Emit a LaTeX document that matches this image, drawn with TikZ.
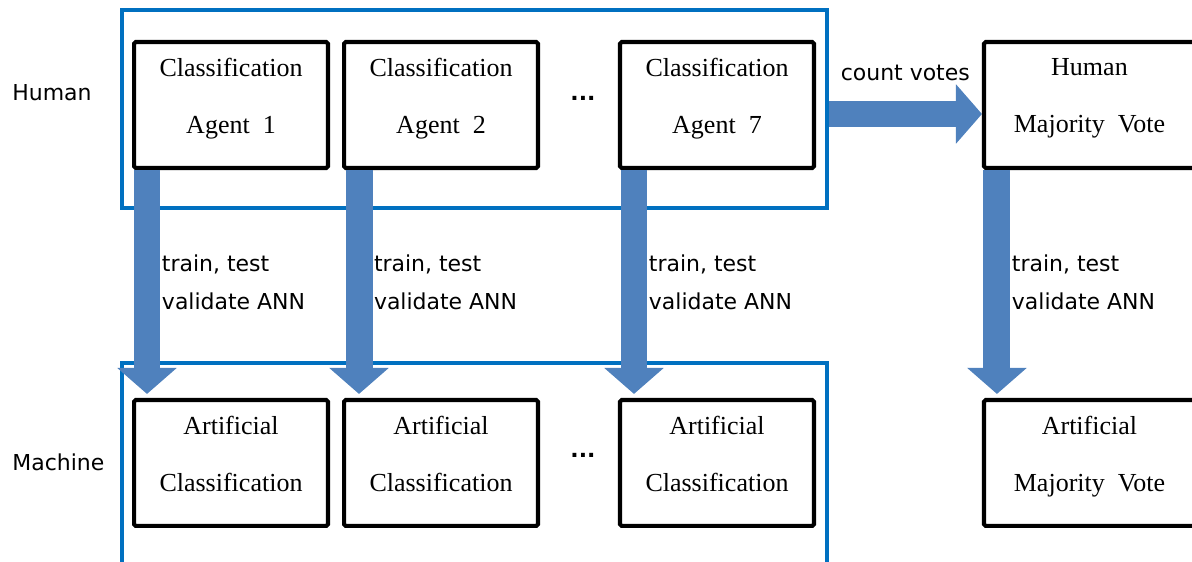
\documentclass[tikz,border=0pt]{standalone}
\usepackage{fontspec}
\setmainfont{Liberation Serif}
\setsansfont{DejaVu Sans}
\usetikzlibrary{arrows.meta,positioning,calc,fit}
\definecolor{votframe}{HTML}{0070C0}
\definecolor{votarrow}{HTML}{4F81BD}
\newcommand{\lowstrut}{\rule[-10.6pt]{0pt}{10.6pt}}
\tikzset{
  agent/.style={draw=black, line width=2.3pt, fill=white, rounded corners=1pt, minimum width=3.88cm, minimum height=2.52cm, inner sep=0pt, align=center, font=\fontsize{14.8}{17.8}\selectfont},
  wide/.style={agent, minimum width=4.22cm},
  grp/.style={draw=votframe, line width=1.9pt, inner sep=0pt},
  fat/.style={-{Triangle[width=1.16cm, length=0.52cm]}, line width=0.54cm, color=votarrow},
  lbl/.style={font=\sffamily\fontsize{12.5}{15}\selectfont, text=black, inner sep=0pt, outer sep=0pt, align=left},
  side/.style={font=\sffamily\fontsize{12.5}{15}\selectfont, inner sep=0pt, anchor=west},
  dots/.style={font=\sffamily\bfseries\fontsize{12.5}{15}\selectfont, inner sep=0pt},
}
\begin{document}
\begin{tikzpicture}[x=0.02cm, y=-0.02cm, node distance=0.24cm]
  \useasboundingbox (0,0) rectangle (1192,561);
  % human and machine groups
  \node[grp, fit={(122,10) (827,208)}] (human) {};
  \node[grp, fit={(122,363) (827,600)}] (machine) {};
  \node[side] (hlab) at (12,93) {Human};
  \node[side] (mlab) at (12,462) {Machine};
  % top row
  \node[agent] (ag1) at (231,105) {Classification\\[14.6pt]Agent~~1\lowstrut};
  \node[agent, right=of ag1] (ag2) {Classification\\[14.6pt]Agent~~2\lowstrut};
  \node[agent, right=1.56cm of ag2] (ag7) {Classification\\[14.6pt]Agent~~7\lowstrut};
  \node[wide, right=3.32cm of ag7] (hmv) {Human\\[14.6pt]Majority~~Vote\lowstrut};
  % bottom row
  \node[agent, below=4.56cm of ag1] (ac1) {Artificial\\[14.6pt]Classification\lowstrut};
  \node[agent, below=4.56cm of ag2] (ac2) {Artificial\\[14.6pt]Classification\lowstrut};
  \node[agent, below=4.56cm of ag7] (ac7) {Artificial\\[14.6pt]Classification\lowstrut};
  \node[wide, below=4.56cm of hmv] (amv) {Artificial\\[14.6pt]Majority~~Vote\lowstrut};
  \node[dots, xshift=0.08cm, yshift=0.14cm] (dtop) at ($(ag2.east)!0.5!(ag7.west)$) {...};
  \node[dots, xshift=0.08cm, yshift=0.16cm] (dbot) at ($(ac2.east)!0.5!(ac7.west)$) {...};
  % training arrows
  \draw[fat] ($(ag1.south west)+(15,0)$) -- node[lbl, midway, anchor=west, xshift=0.3cm] (tr1) {train, test\\[6.6pt]validate ANN} ($(ac1.north west)+(15,-4)$);
  \draw[fat] ($(ag2.south west)+(17,0)$) -- node[lbl, midway, anchor=west, xshift=0.3cm] (tr2) {train, test\\[6.6pt]validate ANN} ($(ac2.north west)+(17,-4)$);
  \draw[fat] ($(ag7.south west)+(16,0)$) -- node[lbl, midway, anchor=west, xshift=0.3cm] (tr7) {train, test\\[6.6pt]validate ANN} ($(ac7.north west)+(16,-4)$);
  \draw[fat] ($(hmv.south west)+(15,0)$) -- node[lbl, midway, anchor=west, xshift=0.3cm] (trv) {train, test\\[6.6pt]validate ANN} ($(amv.north west)+(15,-4)$);
  \draw[fat] ($(human.east |- hmv.west)+(0,9)$) -- node[lbl, midway, above=0.66cm] (cv) {count votes} ($(hmv.west)+(0,9)$);
\end{tikzpicture}
\end{document}
